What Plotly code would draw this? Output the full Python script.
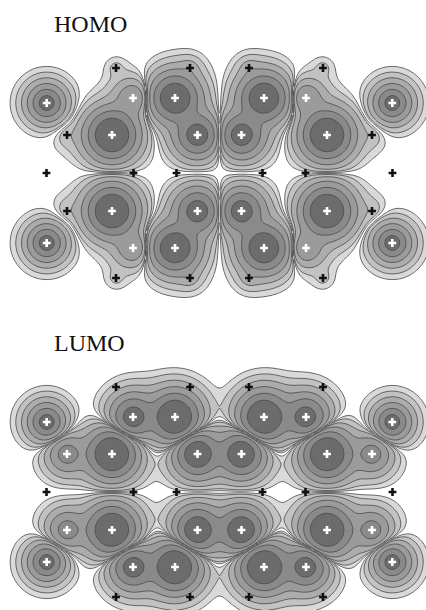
import numpy as np
import plotly.graph_objects as go

# ---- molecular geometry (upper half of the dimer) ----
# x in plot units, dy measured from the mirror line of each panel
site_x = [46.7, 116.0, 133.0, 112.0, 67.0, 190.0, 175.0, 197.5,
          249.0, 264.0, 241.5, 323.0, 306.0, 327.0, 372.0, 392.3]
site_dy = [-70, -105, -75, -38, -38, -105, -75, -38,
           -105, -75, -38, -105, -75, -38, -38, -70]
site_kind = ["M", "H", "C", "C", "C", "H", "C", "C",
             "H", "C", "C", "H", "C", "C", "C", "M"]

# atoms lying on the mirror line
mid_x = [46.5, 133.5, 176.5, 262.5, 305.5, 392.5]

# signed orbital coefficients on the upper-half sites
# (lower half is the mirror image with opposite phase)
homo_coef = [1.0, -0.012, -0.17, -2.07, -0.015, 0.03, 1.6, 0.95,
             -0.03, -1.6, -0.95, 0.012, 0.17, 2.07, 0.015, -1.0]
lumo_coef = [-1.0, 0.0, -0.9, 2.07, 0.30, 0.0, -2.07, 1.3,
             0.0, -2.07, 1.3, 0.0, -0.9, 2.07, 0.30, -1.0]

# radial decay (a) and core softening (r0) per atom kind
decay = {"M": (5.6, 5.0), "C": (6.0, 12.0), "H": (5.0, 5.0)}

panels = [("HOMO", 173.0, homo_coef, 40.0, 306.0, 24.0),
          ("LUMO", 492.0, lumo_coef, 355.0, 610.0, 343.0)]

# log-spaced contour levels of |psi|
lev_start, lev_step, n_lev = -5.7, 1.0, 6
band_colors = ["#ffffff", "#d9d9d9", "#c2c2c2", "#acacac",
               "#9b9b9b", "#8a8a8a", "#6c6c6c"]
# atoms sitting inside the darker bands get a light marker
light_marker_level = -2.5


def full_sites(coef, yc):
    xs, ys, cs, ks = [], [], [], []
    for x, dy, c, k in zip(site_x, site_dy, coef, site_kind):
        xs += [x, x]
        ys += [yc + dy, yc - dy]
        cs += [c, -c]
        ks += [k, k]
    for x in mid_x:
        xs.append(x)
        ys.append(yc)
        cs.append(0.0)
        ks.append("H")
    return xs, ys, cs, ks


def log_psi(X, Y, xs, ys, cs, ks):
    psi = np.zeros_like(np.asarray(X, dtype=float))
    for x, y, c, k in zip(xs, ys, cs, ks):
        if c == 0:
            continue
        a, r0 = decay[k]
        r = np.sqrt((X - x) ** 2 + (Y - y) ** 2 + r0 ** 2) - r0
        psi = psi + c * np.exp(-r / a)
    return np.log(np.abs(psi) + 1e-12)


fig = go.Figure()

n_bands = len(band_colors)
zmin = lev_start - lev_step
zmax = zmin + n_bands * lev_step
cscale = []
for i, col in enumerate(band_colors):
    cscale.append([i / n_bands, col])
    cscale.append([(i + 1) / n_bands, col])

for name, yc, coef, y0, y1, ty in panels:
    xs, ys, cs, ks = full_sites(coef, yc)
    gx = np.arange(0, 426.1, 1.0)
    gy = np.arange(y0, y1 + 0.1, 1.0)
    X, Y = np.meshgrid(gx, gy)
    z = log_psi(X, Y, xs, ys, cs, ks)
    z = np.clip(z, zmin + 0.3, zmax - 0.3)
    fig.add_trace(go.Contour(
        x=gx, y=gy, z=np.round(z, 2),
        autocontour=False,
        contours=dict(start=lev_start, end=lev_start + (n_lev - 1) * lev_step,
                      size=lev_step, coloring="fill", showlines=True),
        line=dict(color="#4a4a4a", width=0.8, smoothing=1),
        colorscale=cscale, zmin=zmin, zmax=zmax, zauto=False,
        showscale=False, hoverinfo="skip",
    ))
    z_at = log_psi(np.array(xs), np.array(ys), xs, ys, cs, ks)
    colors = ["#ffffff" if v > light_marker_level else "#111111" for v in z_at]
    fig.add_trace(go.Scatter(
        x=xs, y=ys, mode="markers",
        marker=dict(symbol="cross", size=6.5, color=colors, line=dict(width=0)),
        hoverinfo="skip", showlegend=False,
    ))
    fig.add_annotation(x=52, y=ty, text=name, showarrow=False, xanchor="left",
                       yanchor="middle",
                       font=dict(family="Liberation Serif", size=24, color="#111111"))

fig.update_xaxes(range=[0, 426], visible=False, fixedrange=True)
fig.update_yaxes(range=[610, 0], visible=False, fixedrange=True)
fig.update_layout(width=426, height=610, margin=dict(l=0, r=0, t=0, b=0),
                  paper_bgcolor="white", plot_bgcolor="white", showlegend=False)
fig.write_html("out.html")
